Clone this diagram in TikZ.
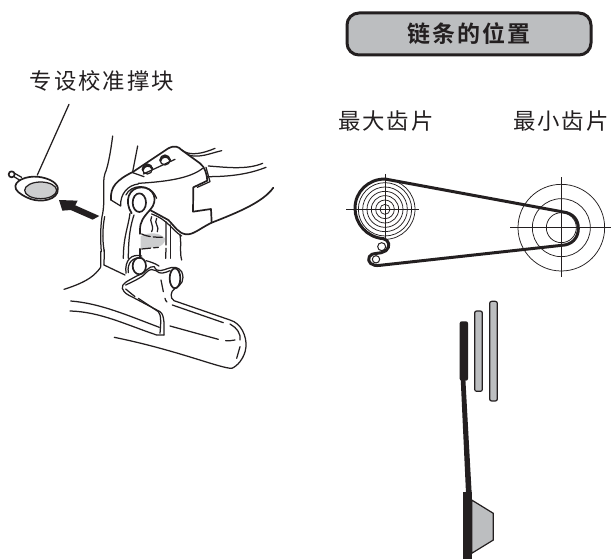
\documentclass[tikz,border=0pt]{standalone}
\usepackage{fontspec}
\setmainfont{Noto Sans CJK SC}
\newfontfamily\lab[LetterSpace=9]{Noto Sans CJK SC}
\newfontfamily\labb[LetterSpace=9]{Noto Sans CJK SC Bold}
\definecolor{ink}{HTML}{231F20}
\definecolor{pale}{HTML}{BCBEC0}
\definecolor{mist}{HTML}{CDCECF}
\tikzset{
  lbl/.style={inner sep=0pt,text=ink,font=\fontsize{22.4}{25}\selectfont\lab,anchor=center},
  art/.style={draw=ink,line width=1.25pt,line cap=round,line join=round},
  bold/.style={draw=ink,line width=1.7pt,line cap=round,line join=round},
  thin/.style={draw=ink,line width=0.75pt},
  chainline/.style={draw=ink,line width=3pt,line cap=round,line join=round},
  plate/.style={draw=ink,line width=1.2pt,fill=pale},
  crop/.style={x=0.33333pt,y=-0.33333pt},
}
\begin{document}
\begin{tikzpicture}[x=1pt,y=-1pt]
\useasboundingbox (0,0) rectangle (611,559);
% labels
\node[lbl] (tool) at (102,81) {专设校准撑块};
\node[draw=ink,line width=3pt,fill=pale,rounded corners=12pt,minimum width=244pt,minimum height=42pt,inner sep=0pt] (title) at (469,34) {};
\node[lbl,font=\fontsize{23}{25}\selectfont\labb] at (title.center) {链条的位置};
\node[lbl] (big) at (386,121) {最大齿片};
\node[lbl] (small) at (561,121) {最小齿片};
% left drawing, general part
\begin{scope}[crop,yshift=-60pt]
\coordinate (leadEnd) at (112,345);
\coordinate (leadStart) at (207,133);
\draw[art] (leadStart) -- (leadEnd);
\draw[bold] (35,343) circle (9);
\draw[art] (44,340) -- (65,352) (42,350) -- (58,360);
\draw[bold,fill=white] (46,378) .. controls (50,355) and (95,345) .. (125,352) .. controls (165,360) and (180,380) .. (172,398) .. controls (160,425) and (110,428) .. (80,412) .. controls (60,402) and (45,392) .. (46,378) -- cycle;
\draw[art,fill=mist] (122,391) ellipse (48 and 25);
\fill[ink] (177,420) -- (233,422) -- (226,436) -- (298,468) -- (278,479) -- (212,450) -- (187,452) -- cycle;
\draw[art] (338,228) .. controls (330,290) and (322,325) .. (315,340) .. controls (305,370) and (318,420) .. (306,470) .. controls (300,510) and (302,550) .. (304,575);
\draw[art] (314,470) .. controls (306,510) and (308,550) .. (313,575);
\end{scope}
% upper block and link (crop A)
\begin{scope}[crop,xshift=100pt,yshift=-130pt]
\draw[art] (113,48) -- (98,125);
\draw[bold] (33,210) .. controls (30,170) and (50,150) .. (100,125) -- (205,55) .. controls (225,45) and (235,50) .. (245,60) -- (300,100) .. controls (315,112) and (320,130) .. (322,152) -- (280,172) -- (279,245) -- (333,237) -- (335,278);
\draw[art] (33,210) -- (62,228) .. controls (60,190) and (85,165) .. (115,162);
\draw[art] (115,160) .. controls (200,155) and (270,145) .. (308,115);
\draw[art] (130,132) -- (225,88);
\draw[art] (98,128) -- (132,140);
\draw[art] (142,117) circle (15);
\draw[bold,line width=2.2pt] (128,120) .. controls (130,105) and (152,102) .. (157,116);
\draw[art] (195,90) circle (15);
\draw[bold,line width=2.2pt] (181,92) .. controls (183,78) and (205,75) .. (210,90);
\draw[art] (245,60) .. controls (270,80) and (310,70) .. (345,55);
\draw[art] (265,75) .. controls (300,85) and (330,70) .. (365,62);
\draw[art] (325,108) .. controls (380,112) and (440,120) .. (488,100);
\draw[art] (322,140) .. controls (380,140) and (440,135) .. (498,112);
\draw[art] (318,112) -- (330,155) -- (292,172);
\draw[bold] (520,173) .. controls (490,215) and (420,245) .. (335,278) .. controls (300,295) and (280,315) .. (258,313) .. controls (235,310) and (225,290) .. (205,270) -- (150,240);
\draw[art] (155,252) .. controls (205,270) and (215,300) .. (245,318);
% link eye
\draw[bold] (118,218) ellipse (20 and 28);
\draw[bold] (95,250) .. controls (72,215) and (85,172) .. (125,172) .. controls (160,172) and (178,210) .. (150,240) .. controls (130,262) and (120,275) .. (120,300);
\draw[art] (78,195) .. controls (90,165) and (150,155) .. (170,205);
\draw[art] (90,250) .. controls (85,290) and (70,320) .. (70,385);
\draw[art] (102,255) .. controls (92,285) and (85,320) .. (85,385);
\draw[art] (120,300) -- (120,312) (120,356) -- (120,385);
\draw[art] (155,260) .. controls (145,275) and (165,285) .. (155,305);
\draw[art] (170,265) .. controls (160,280) and (180,290) .. (172,305);
\draw[art] (198,275) -- (198,345) (198,355) -- (197,385);
\draw[art] (212,285) -- (212,385);
\draw[art] (240,315) .. controls (245,345) and (238,365) .. (245,390);
% gray part
\fill[mist] (122,318) .. controls (150,305) and (180,308) .. (195,325) .. controls (197,340) and (182,350) .. (170,352) -- (122,356) -- cycle;
\draw[art,dash pattern=on 9pt off 3pt] (125,312) .. controls (145,322) and (175,322) .. (195,322);
\draw[art,dash pattern=on 9pt off 3pt] (125,357) -- (175,352);
\end{scope}
% lower part (crop B)
\begin{scope}[crop,xshift=60pt,yshift=-240pt]
\draw[art] (122,35) -- (122,80) (133,30) -- (132,75);
\draw[art] (132,75) -- (195,105);
\draw[art] (122,82) .. controls (105,105) and (85,125) .. (12,148);
\draw[bold] (238,78) ellipse (20 and 25);
\draw[art] (198,100) .. controls (193,60) and (215,40) .. (245,48);
\draw[art] (205,98) .. controls (200,68) and (220,50) .. (245,54);
\draw[bold] (345,115) ellipse (16 and 30);
\draw[art] (258,62) .. controls (270,65) and (285,70) .. (297,78);
% wire
\draw[art] (187,145) .. controls (185,130) and (200,125) .. (230,108) .. controls (255,100) and (270,75) .. (283,80) .. controls (290,100) and (310,90) .. (325,85) .. controls (340,80) and (355,80) .. (365,95) .. controls (375,120) and (365,135) .. (345,145) .. controls (330,155) and (330,175) .. (342,182) -- (510,240) .. controls (545,250) and (560,290) .. (558,320) .. controls (555,355) and (530,380) .. (515,385) .. controls (480,385) and (350,330) .. (163,292);
\draw[art] (197,135) .. controls (225,122) and (250,110) .. (258,98) .. controls (270,85) and (280,88) .. (288,92) .. controls (300,105) and (315,98) .. (330,92);
\draw[art] (187,145) .. controls (192,160) and (205,165) .. (215,170) -- (300,215) .. controls (315,225) and (312,260) .. (312,285);
\draw[art] (197,147) -- (225,170) (235,175) -- (295,215) .. controls (305,225) and (302,255) .. (300,280);
\draw[art] (303,120) -- (310,155) (315,175) .. controls (316,180) and (318,184) .. (321,186);
% arm
\draw[art] (32,183) .. controls (120,190) and (200,225) .. (298,262);
\draw[art] (30,213) .. controls (120,215) and (200,255) .. (290,285) -- (312,285);
\draw[art] (330,258) -- (475,298);
\draw[art] (497,302) .. controls (505,303) and (515,302) .. (525,300);
\draw[art] (337,195) -- (490,248);
\draw[art] (510,252) .. controls (530,262) and (545,285) .. (540,300);
\draw[art] (540,320) -- (530,355);
\end{scope}
% sprockets
\begin{scope}[crop,xshift=330pt]
\coordinate (bigc) at (165,628);
\coordinate (smallc) at (694,683);
\foreach \r in {15,28,41,54,67,80,90}{\draw[thin] (bigc) circle (\r);}
\draw[thin] (48,628) -- (268,628) (165,522) -- (165,720);
\foreach \r in {45,87,130}{\draw[thin] (smallc) circle (\r);}
\draw[thin] (540,683) -- (842,683) (694,532) -- (694,832);
\draw[thin,line width=1pt] (155,740) circle (12);
\draw[thin,line width=1pt] (138,778) circle (11);
\draw[chainline] (165,537) -- (700,636) .. controls (730,640) and (745,660) .. (745,685) .. controls (745,715) and (725,735) .. (695,736) -- (150,796) .. controls (125,800) and (110,785) .. (118,770) .. controls (125,755) and (150,765) .. (168,752) .. controls (182,740) and (178,720) .. (160,716) .. controls (110,712) and (75,670) .. (75,625) .. controls (75,575) and (115,537) .. (165,537);
\end{scope}
% chain and plates
\begin{scope}[crop,xshift=420pt,yshift=-290pt]
\draw[plate,rounded corners=2pt] (164,63) rectangle (187,304);
\draw[plate,rounded corners=2pt] (209,34) rectangle (232,333);
\fill[ink,rounded corners=2pt] (119,94) rectangle (144,272);
\fill[ink] (122,265) -- (136,265) -- (155,610) -- (138,610) -- cycle;
\draw[plate] (155,630) -- (220,670) -- (220,750) -- (155,790) -- cycle;
\fill[ink] (130,607) rectangle (155,807);
\end{scope}
\end{tikzpicture}
\end{document}
